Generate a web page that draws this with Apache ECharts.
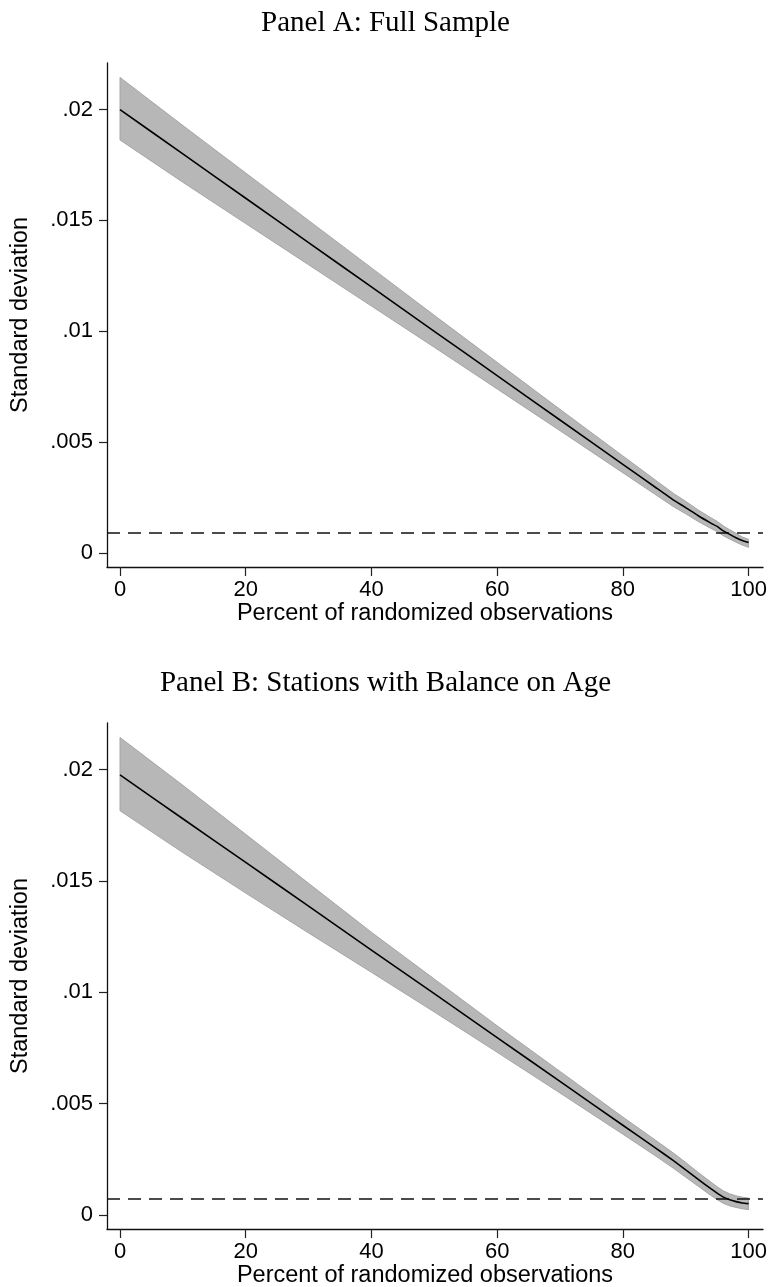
<!DOCTYPE html>
<html>
<head>
<meta charset="utf-8">
<script src="https://cdn.jsdelivr.net/npm/echarts@6/dist/echarts.min.js"></script>
<style>
  html, body { margin: 0; padding: 0; background: #fff; }
  #chart { width: 771px; height: 1287px; }
</style>
</head>
<body>
<div id="chart"></div>
<script>
// Share of observations that are randomized (x axis)
const xPct = [0, 10, 20, 30, 40, 50, 60, 70, 80, 85, 88, 90, 92, 94, 95, 96, 97, 98, 99, 100];

// Panel A: full sample — mean and confidence band
const meanA  = [0.0200, 0.0180, 0.0160, 0.0140, 0.0120, 0.0100, 0.0080, 0.0060, 0.0040, 0.0030, 0.0024, 0.00205, 0.00168, 0.00135, 0.0012, 0.0010, 0.00084, 0.00069, 0.00056, 0.00047];
const upperA = [0.02145, 0.01928, 0.01714, 0.0150, 0.01286, 0.01072, 0.0086, 0.00648, 0.00438, 0.00333, 0.0027, 0.00233, 0.00194, 0.00159, 0.00143, 0.00122, 0.00105, 0.00089, 0.00072, 0.00062];
const lowerA = [0.01863, 0.01672, 0.01486, 0.0130, 0.01114, 0.00928, 0.0074, 0.00552, 0.00362, 0.00267, 0.0021, 0.00177, 0.00142, 0.00111, 0.00097, 0.00078, 0.00063, 0.00049, 0.00036, 0.00026];
const refA = 0.0009;

// Panel B: stations with balance on age
const meanB  = [0.01977, 0.0178, 0.01584, 0.01387, 0.0119, 0.00994, 0.00797, 0.006, 0.00403, 0.00305, 0.00245, 0.00203, 0.0016, 0.00118, 0.00098, 0.0008, 0.00068, 0.0006, 0.00054, 0.00051];
const upperB = [0.02145, 0.0193, 0.0171, 0.0149, 0.0127, 0.0106, 0.0085, 0.00645, 0.0044, 0.0034, 0.00279, 0.00236, 0.00191, 0.00148, 0.00127, 0.00108, 0.00095, 0.00086, 0.0008, 0.00076];
const lowerB = [0.01816, 0.01628, 0.01446, 0.01267, 0.0109, 0.00912, 0.00731, 0.00548, 0.00363, 0.00269, 0.00211, 0.0017, 0.00129, 0.00088, 0.00069, 0.00052, 0.00041, 0.00034, 0.00028, 0.00024];
const refB = 0.00072;

// Axis ranges, ticks and labels
const xRange = [-2.07, 102.3];
const yRange = [-0.00063, 0.0221];
const xTicks = [0, 20, 40, 60, 80, 100];
const yTicks = [0, 0.005, 0.01, 0.015, 0.02];
const yTickLabels = ['0', '.005', '.01', '.015', '.02'];

const panelTitles = ['Panel A: Full Sample', 'Panel B: Stations with Balance on Age'];
const xTitle = 'Percent of randomized observations';
const yTitle = 'Standard deviation';

const sans = '"Liberation Sans", Arial, sans-serif';
const serif = '"Liberation Serif", "Times New Roman", serif';

const chart = echarts.init(document.getElementById('chart'), null, { renderer: 'canvas' });

function yLabel(v) {
  let best = 0;
  for (let i = 1; i < yTicks.length; i++) {
    if (Math.abs(yTicks[i] - v) < Math.abs(yTicks[best] - v)) best = i;
  }
  return yTickLabels[best];
}

const grids = [
  { left: 107, top: 63, width: 656, height: 504 },
  { left: 107, top: 723, width: 656, height: 506 }
];

function xAxisFor(i) {
  return {
    type: 'value', gridIndex: i, min: xRange[0], max: xRange[1],
    name: xTitle, nameLocation: 'middle', nameGap: 34,
    nameTextStyle: { fontFamily: sans, fontSize: 23.5, color: '#000', padding: [0, 20, 0, 0] },
    axisLine: { show: true, onZero: false, lineStyle: { color: '#111', width: 1.3 } },
    axisTick: { show: true, customValues: xTicks, length: 9, lineStyle: { color: '#222', width: 1.2 } },
    axisLabel: { customValues: xTicks, margin: 12, fontFamily: sans, fontSize: 22, color: '#000' },
    splitLine: { show: false }
  };
}

function yAxisFor(i) {
  return {
    type: 'value', gridIndex: i, min: yRange[0], max: yRange[1],
    name: yTitle, nameLocation: 'middle', nameGap: 74, nameRotate: 90,
    nameTextStyle: { fontFamily: sans, fontSize: 23.5, color: '#000' },
    axisLine: { show: true, onZero: false, lineStyle: { color: '#111', width: 1.3 } },
    axisTick: { show: true, customValues: yTicks, length: 8, lineStyle: { color: '#222', width: 1.2 } },
    axisLabel: { customValues: yTicks, margin: 14, fontFamily: sans, fontSize: 22, color: '#000', formatter: yLabel },
    splitLine: { show: false }
  };
}

// Confidence band drawn as one polygon through the axis scales
function bandSeries(i, lower, upper) {
  return {
    type: 'custom', xAxisIndex: i, yAxisIndex: i, silent: true, z: 1,
    data: xPct.map((x, k) => [x, lower[k], upper[k]]),
    renderItem: function (params, api) {
      if (params.dataIndex !== 0) return null;
      const pts = [];
      for (let k = 0; k < xPct.length; k++) pts.push(api.coord([xPct[k], upper[k]]));
      for (let k = xPct.length - 1; k >= 0; k--) pts.push(api.coord([xPct[k], lower[k]]));
      return {
        type: 'polygon',
        shape: { points: pts, smooth: 0 },
        style: { fill: '#b7b7b7', stroke: '#a6a6a6', lineWidth: 1 }
      };
    }
  };
}

function meanSeries(i, mean) {
  return {
    type: 'line', xAxisIndex: i, yAxisIndex: i, z: 3,
    data: xPct.map((x, k) => [x, mean[k]]),
    showSymbol: false, symbol: 'none', smooth: 0.15,
    lineStyle: { color: '#000', width: 1.6 }
  };
}

// Horizontal dashed reference line across the whole plot width
function refSeries(i, ref) {
  return {
    type: 'line', xAxisIndex: i, yAxisIndex: i, z: 2,
    data: [[xRange[0], ref], [xRange[1], ref]],
    showSymbol: false, symbol: 'none',
    lineStyle: { color: '#111', width: 1.4, type: [13, 8] }
  };
}

chart.setOption({
  backgroundColor: '#fff',
  animation: false,
  title: [
    { text: panelTitles[0], left: 'center', top: 4, textStyle: { fontFamily: serif, fontSize: 29, fontWeight: 'normal', color: '#000' } },
    { text: panelTitles[1], left: 'center', top: 664, textStyle: { fontFamily: serif, fontSize: 29, fontWeight: 'normal', color: '#000' } }
  ],
  grid: grids.map(g => Object.assign({ outerBoundsMode: 'none' }, g)),
  xAxis: [xAxisFor(0), xAxisFor(1)],
  yAxis: [yAxisFor(0), yAxisFor(1)],
  series: [
    bandSeries(0, lowerA, upperA),
    refSeries(0, refA),
    meanSeries(0, meanA),
    bandSeries(1, lowerB, upperB),
    refSeries(1, refB),
    meanSeries(1, meanB)
  ]
});
</script>
</body>
</html>
